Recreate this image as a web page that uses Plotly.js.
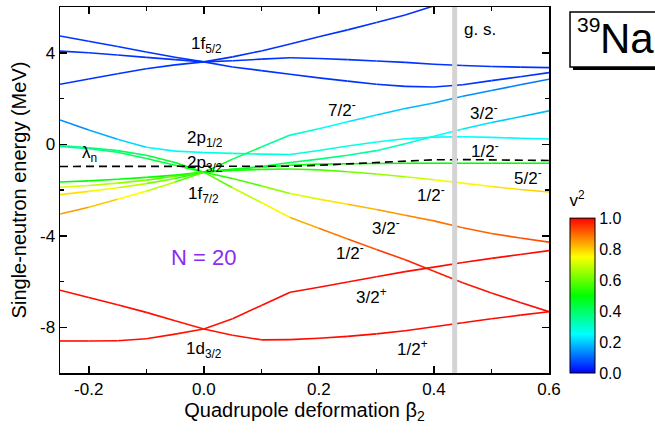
<!DOCTYPE html>
<html><head><meta charset="utf-8">
<script src="https://cdn.plot.ly/plotly-3.0.1.min.js"></script>
<style>html,body{margin:0;padding:0;background:#fff}#chart{width:655px;height:443px}</style>
</head><body><div id="chart"></div>
<script>
// Deformation grid
const beta = [-0.25,-0.2,-0.15,-0.1,-0.05,0,0.05,0.1,0.15,0.2,0.25,0.3,0.35,0.4,0.45,0.5,0.55,0.6];

// Single-neutron energies (MeV)
const f52a = [4.73,4.5,4.27,4.03,3.8,3.6,3.38,3.22,3.06,2.9,2.76,2.62,2.53,2.5,2.6,2.78,2.95,3.13];
const f52b = [4.07,4.0,3.9,3.8,3.7,3.6,3.65,3.72,3.78,3.75,3.7,3.64,3.58,3.5,3.44,3.4,3.37,3.35];
const f52c = [2.62,2.85,3.08,3.3,3.47,3.6,3.82,4.08,4.38,4.7,5.0,5.32,5.65,6.05,6.45,null,null,null];
const p12  = [1.06,0.62,0.22,-0.13,-0.3,-0.36,-0.4,-0.43,-0.45,-0.27,-0.08,0.1,0.24,0.31,0.33,0.3,0.26,0.23];
const lvA  = [-0.06,-0.15,-0.28,-0.48,-0.8,-1.22,-1.9,-2.55,-3.2,-3.67,-4.14,-4.6,-5.05,-5.55,-6.05,-6.5,-6.92,-7.32];
const lvB  = [-0.1,-0.2,-0.35,-0.62,-0.92,-1.22,-1.5,-1.82,-2.15,-2.4,-2.62,-2.85,-3.1,-3.35,-3.65,-3.9,-4.1,-4.28];
const lvC  = [-1.65,-1.6,-1.53,-1.45,-1.35,-1.22,-1.15,-1.1,-1.08,-1.12,-1.2,-1.3,-1.42,-1.55,-1.7,-1.85,-1.98,-2.09];
const lvD  = [-1.88,-1.8,-1.7,-1.57,-1.4,-1.22,-1.1,-1.0,-0.92,-0.87,-0.85,-0.84,-0.83,-0.83,-0.83,-0.83,-0.83,-0.83];
const lvE  = [-2.2,-2.06,-1.9,-1.72,-1.5,-1.22,-1.1,-0.97,-0.8,-0.65,-0.48,-0.28,0.02,0.35,0.67,0.95,1.2,1.46];
const lvF  = [-3.05,-2.75,-2.4,-2.05,-1.65,-1.22,-0.65,-0.12,0.4,0.68,0.98,1.28,1.56,1.8,2.1,2.35,2.6,2.84];
const d32a = [-8.6,-8.6,-8.59,-8.5,-8.3,-8.08,-7.63,-7.05,-6.47,-6.25,-6.02,-5.79,-5.57,-5.37,-5.17,-4.99,-4.82,-4.65];
const d32b = [-6.38,-6.7,-7.02,-7.35,-7.72,-8.08,-8.35,-8.55,-8.54,-8.48,-8.4,-8.29,-8.15,-7.98,-7.8,-7.63,-7.47,-7.32];
const lambdaN = [-0.97,-0.97,-0.97,-0.97,-0.97,-0.97,-0.98,-0.98,-0.96,-0.92,-0.86,-0.79,-0.72,-0.68,-0.67,-0.68,-0.7,-0.71];

// Occupation probabilities v^2
const v2f52 = [0.05,0.05,0.05,0.05,0.05,0.05,0.05,0.05,0.05,0.05,0.05,0.05,0.05,0.05,0.05,0.05,0.05,0.05];
const v2p12 = [0.12,0.15,0.19,0.23,0.26,0.28,0.28,0.28,0.28,0.28,0.27,0.27,0.26,0.25,0.25,0.25,0.24,0.24];
const v2A   = [0.36,0.38,0.4,0.43,0.47,0.52,0.65,0.72,0.8,0.86,0.9,0.93,0.96,0.97,0.98,0.98,0.99,0.99];
const v2B   = [0.34,0.36,0.39,0.42,0.46,0.52,0.54,0.6,0.68,0.75,0.8,0.84,0.86,0.88,0.9,0.91,0.92,0.93];
const v2C   = [0.48,0.49,0.5,0.5,0.51,0.52,0.52,0.53,0.54,0.56,0.59,0.63,0.67,0.72,0.75,0.77,0.79,0.8];
const v2D   = [0.72,0.7,0.66,0.62,0.57,0.52,0.5,0.5,0.5,0.5,0.5,0.5,0.5,0.5,0.5,0.5,0.5,0.5];
const v2E   = [0.8,0.76,0.71,0.65,0.58,0.52,0.48,0.45,0.42,0.39,0.36,0.33,0.3,0.27,0.24,0.21,0.19,0.17];
const v2F   = [0.87,0.83,0.78,0.72,0.64,0.52,0.45,0.38,0.31,0.27,0.24,0.21,0.19,0.17,0.15,0.13,0.12,0.11];
const v2d32 = [0.99,0.99,0.99,0.99,0.98,0.98,0.98,0.99,0.99,0.99,0.99,0.99,0.99,0.99,0.99,0.99,0.99,0.99];

const gsBeta = 0.436;

const xTickVals = [-0.2,0,0.2,0.4,0.6];
const xTickText = ['-0.2','0.0','0.2','0.4','0.6'];
const yTickVals = [-8,-4,0,4];
const yTickText = ['-8','-4','0','4'];
const cbTickVals = [0,0.2,0.4,0.6,0.8,1.0];
const cbTickText = ['0.0','0.2','0.4','0.6','0.8','1.0'];

const colorscale = [[0,'rgb(0,0,255)'],[0.25,'rgb(0,255,255)'],[0.5,'rgb(0,255,0)'],[0.75,'rgb(255,255,0)'],[1,'rgb(255,0,0)']];
const FONT = 'Arial, "Liberation Sans", sans-serif';

function colorAt(v){
  v = Math.max(0, Math.min(1, v));
  for (let i = 1; i < colorscale.length; i++){
    const [p1,c1] = colorscale[i-1], [p2,c2] = colorscale[i];
    if (v <= p2){
      const t = (v - p1)/(p2 - p1);
      const a = c1.match(/\d+/g).map(Number), b = c2.match(/\d+/g).map(Number);
      const c = a.map((x,k)=>Math.round(x + (b[k]-x)*t));
      return `rgb(${c[0]},${c[1]},${c[2]})`;
    }
  }
  return colorscale[colorscale.length-1][1];
}

const levels = [
  [f52a, v2f52],[f52b, v2f52],[f52c, v2f52],[p12, v2p12],
  [lvA, v2A],[lvB, v2B],[lvC, v2C],[lvD, v2D],[lvE, v2E],[lvF, v2F],
  [d32a, v2d32],[d32b, v2d32]
];

const traces = [];
levels.forEach(([E, V]) => {
  for (let i = 0; i < beta.length-1; i++){
    if (E[i] == null || E[i+1] == null) continue;
    traces.push({
      type:'scatter', mode:'lines', x:[beta[i], beta[i+1]], y:[E[i], E[i+1]],
      line:{color: colorAt((V[i]+V[i+1])/2), width:1.6},
      hoverinfo:'skip', showlegend:false
    });
  }
});

traces.push({
  type:'scatter', mode:'lines', x: beta, y: lambdaN,
  line:{color:'#000', width:1.6, dash:'8px,5px'}, hoverinfo:'skip', showlegend:false
});

// colour bar holder
traces.push({
  type:'scatter', mode:'markers', x:[null], y:[null], showlegend:false, hoverinfo:'skip',
  marker:{color:[0], cmin:0, cmax:1, colorscale: colorscale, showscale:true,
    colorbar:{x:1.043, xanchor:'left', y:0, yanchor:'bottom', len:182, lenmode:'pixels',
      thickness:25, thicknessmode:'pixels', xpad:0, ypad:0, outlinewidth:1, outlinecolor:'#000',
      tickmode:'array', tickvals: cbTickVals, ticktext: cbTickText, ticks:'',
      tickfont:{family:FONT, size:16, color:'#000'},
      title:{text:'v<sup>2</sup>', side:'top', font:{family:FONT, size:17, color:'#000'}}}}
});

const labels = [
  {t:'1f<sub>5/2</sub>', x:0.005, y:4.32},
  {t:'2p<sub>1/2</sub>', x:0.002, y:0.23},
  {t:'2p<sub>3/2</sub>', x:0.002, y:-0.86},
  {t:'1f<sub>7/2</sub>', x:0.0, y:-2.2},
  {t:'1d<sub>3/2</sub>', x:0.0, y:-9.0},
  {t:'λ<sub>n</sub>', x:-0.198, y:-0.42},
  {t:'7/2<sup>-</sup>', x:0.24, y:1.53},
  {t:'3/2<sup>-</sup>', x:0.487, y:1.4},
  {t:'1/2<sup>-</sup>', x:0.489, y:-0.25},
  {t:'5/2<sup>-</sup>', x:0.563, y:-1.42},
  {t:'1/2<sup>-</sup>', x:0.395, y:-2.16},
  {t:'3/2<sup>-</sup>', x:0.317, y:-3.6},
  {t:'1/2<sup>-</sup>', x:0.254, y:-4.73},
  {t:'3/2<sup>+</sup>', x:0.292, y:-6.64},
  {t:'1/2<sup>+</sup>', x:0.363, y:-8.9},
  {t:'g. s.', x:0.48, y:5.01}
];
const annotations = labels.map(l => ({text:l.t, x:l.x, y:l.y, xref:'x', yref:'y', showarrow:false,
  xanchor:'center', yanchor:'middle', font:{family:FONT, size:17, color:'#000'}}));
annotations.push({text:'N = 20', x:0.0, y:-4.95, xref:'x', yref:'y', showarrow:false,
  xanchor:'center', yanchor:'middle', font:{family:FONT, size:22, color:'#8B2BF0'}});
annotations.push({text:'39', x:1.0798, y:0.951, xref:'paper', yref:'paper', showarrow:false,
  xanchor:'center', yanchor:'middle', font:{family:FONT, size:21, color:'#000'}});
annotations.push({text:'Na', x:1.1595, y:0.915, xref:'paper', yref:'paper', showarrow:false,
  xanchor:'center', yanchor:'middle', font:{family:FONT, size:42, color:'#000'}});

const shapes = [
  {type:'line', xref:'x', yref:'paper', x0:gsBeta, x1:gsBeta, y0:0, y1:1,
   line:{color:'#d4d4d4', width:5}, layer:'above'},
  {type:'rect', xref:'paper', yref:'paper', x0:1.049, x1:1.249, y0:0.828, y1:0.978,
   fillcolor:'#000', line:{width:0}, layer:'below'},
  {type:'rect', xref:'paper', yref:'paper', x0:1.043, x1:1.243, y0:0.836, y1:0.986,
   fillcolor:'#fff', line:{color:'#000', width:1.5}, layer:'below'}
];

const axisCommon = {showline:true, linewidth:1.5, linecolor:'#000', mirror:'ticks', ticks:'inside',
  ticklen:7, tickwidth:1.5, tickcolor:'#000', showgrid:false, zeroline:false,
  tickfont:{family:FONT, size:17, color:'#000'}, tickmode:'array'};

const layout = {
  width:655, height:443, margin:{l:60, r:106, t:7, b:70},
  paper_bgcolor:'#fff', plot_bgcolor:'rgba(0,0,0,0)', showlegend:false,
  font:{family:FONT, color:'#000'},
  xaxis: Object.assign({}, axisCommon, {range:[-0.25,0.6], tickvals:xTickVals, ticktext:xTickText,
    minor:{tickmode:'linear', tick0:0, dtick:0.1, ticks:'inside', ticklen:4, tickwidth:1.5, tickcolor:'#000'},
    title:{text:'Quadrupole deformation β<sub>2</sub>', font:{family:FONT, size:20, color:'#000'}, standoff:3}}),
  yaxis: Object.assign({}, axisCommon, {range:[-10,6], tickvals:yTickVals, ticktext:yTickText,
    minor:{tickmode:'linear', tick0:0, dtick:2, ticks:'inside', ticklen:4, tickwidth:1.5, tickcolor:'#000'},
    title:{text:'Single-neutron energy (MeV)', font:{family:FONT, size:20, color:'#000'}, standoff:8}}),
  annotations: annotations,
  shapes: shapes
};

Plotly.newPlot('chart', traces, layout, {displayModeBar:false, staticPlot:true});
</script></body></html>
